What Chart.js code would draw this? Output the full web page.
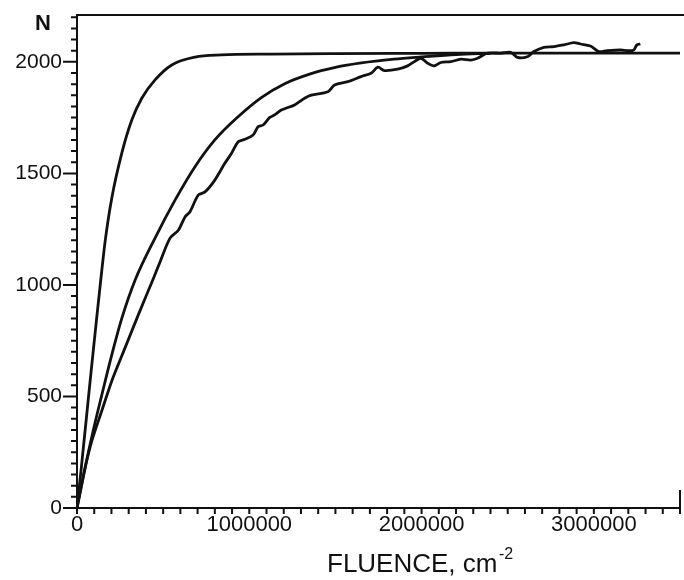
<!DOCTYPE html>
<html>
<head>
<meta charset="utf-8">
<script src="https://cdn.jsdelivr.net/npm/chart.js@4"></script>
<style>
    html, body { margin: 0; padding: 0; background: #fff; }
    #wrap { width: 684px; height: 580px; position: relative; }
</style>
</head>
<body>
<div id="wrap"><canvas id="grafico"></canvas></div>
<script>
// curva rapida (satura antes de 1000000)
const fluenciaRapida = [0, 25000, 54000, 83000, 114000, 139000, 164000, 202000, 260000, 318000, 376000, 453000, 550000, 685000, 839000, 1128000, 1500000, 2000000, 2500000, 3000000, 3500000];
const nRapida = [0, 180, 400, 620, 850, 1030, 1200, 1390, 1591, 1739, 1837, 1919, 1986, 2021, 2031, 2035, 2037, 2038, 2039, 2039, 2039];

// curva intermediaria
const fluenciaMedia = [0, 48000, 96500, 145000, 203000, 260000, 337000, 453000, 569000, 685000, 800000, 935000, 1070000, 1200000, 1350000, 1500000, 1650000, 1840000, 2000000, 2200000, 2400000];
const nMedia = [0, 185, 355, 510, 690, 850, 1021, 1210, 1380, 1530, 1650, 1754, 1840, 1900, 1945, 1975, 1995, 2012, 2022, 2033, 2038];

// curva medida (com ruido)
const fluenciaMedida = [0, 48000, 87000, 145000, 203000, 280000, 357000, 444000, 482000, 540000, 588000, 627000, 656000, 704000, 743000, 800000, 858000, 897000, 936000, 974000, 1022000, 1051000, 1080000, 1119000, 1147000, 1186000, 1263000, 1321000, 1360000, 1456000, 1495000, 1572000, 1649000, 1707000, 1746000, 1784000, 1861000, 1919000, 1958000, 1997000, 2035000, 2073000, 2112000, 2170000, 2228000, 2286000, 2325000, 2383000, 2459000, 2517000, 2556000, 2614000, 2652000, 2710000, 2768000, 2826000, 2884000, 2922000, 2980000, 3028000, 3077000, 3154000, 3202000, 3231000, 3250000, 3270000];
const nMedida = [0, 183, 303, 438, 572, 720, 868, 1030, 1103, 1210, 1245, 1305, 1328, 1403, 1417, 1470, 1545, 1590, 1642, 1653, 1672, 1709, 1717, 1751, 1762, 1784, 1807, 1837, 1851, 1866, 1896, 1911, 1934, 1949, 1976, 1961, 1967, 1982, 2001, 2016, 1994, 1982, 1997, 2001, 2012, 2008, 2016, 2039, 2039, 2043, 2020, 2023, 2046, 2065, 2068, 2076, 2086, 2080, 2071, 2046, 2050, 2053, 2050, 2053, 2076, 2080];

// eixos
const xTicks = [0, 1000000, 2000000, 3000000];
const xTickLabels = ['0', '1000000', '2000000', '3000000'];
const yTicks = [0, 500, 1000, 1500, 2000];
const yTickLabels = ['0', '500', '1000', '1500', '2000'];
const xMin = 0, xMax = 3500000, xPasso = 100000;
const yMin = 0, yMax = 2210, yPasso = 50;

function pontos(fs, ns) {
    return fs.map((f, i) => ({ x: f, y: ns[i] }));
}

const fonte = '"Liberation Sans", Arial, sans-serif';

// desenha eixos, marcas e titulos como no grafico original
const eixos = {
    id: 'eixos',
    afterDraw(chart) {
        const ctx = chart.ctx;
        const area = chart.chartArea;
        const sx = chart.scales.x;
        const sy = chart.scales.y;
        ctx.save();
        ctx.strokeStyle = '#111';
        ctx.lineWidth = 2;
        ctx.beginPath();
        ctx.moveTo(area.left, area.bottom);
        ctx.lineTo(area.left, area.top);
        ctx.lineTo(chart.width, area.top);
        ctx.moveTo(area.left - 1, area.bottom);
        ctx.lineTo(area.right, area.bottom);
        ctx.lineTo(area.right, area.bottom - 18);
        ctx.stroke();

        ctx.lineWidth = 2;
        ctx.beginPath();
        for (let v = yMin; v <= yMax; v += yPasso) {
            const py = sy.getPixelForValue(v);
            const len = yTicks.includes(v) ? 14 : 6;
            ctx.moveTo(area.left - len, py);
            ctx.lineTo(area.left, py);
        }
        for (let v = xMin; v <= xMax; v += xPasso) {
            const px = sx.getPixelForValue(v);
            ctx.moveTo(px, area.bottom);
            ctx.lineTo(px, area.bottom + 6);
        }
        ctx.stroke();

        ctx.fillStyle = '#111';
        ctx.font = 'bold 22px ' + fonte;
        ctx.textAlign = 'center';
        ctx.textBaseline = 'alphabetic';
        ctx.fillText('N', 43, 30);

        ctx.textAlign = 'left';
        ctx.font = '26px ' + fonte;
        ctx.fillText('FLUENCE, cm', 327, 572);
        ctx.font = '16px ' + fonte;
        ctx.fillText('-2', 499, 559);
        ctx.restore();
    }
};

const config = {
    type: 'line',
    data: {
        datasets: [
            {
                label: 'rapida',
                data: pontos(fluenciaRapida, nRapida),
                borderColor: '#111',
                borderWidth: 2.8,
                pointRadius: 0,
                cubicInterpolationMode: 'monotone',
                fill: false
            },
            {
                label: 'media',
                data: pontos(fluenciaMedia, nMedia),
                borderColor: '#111',
                borderWidth: 2.8,
                pointRadius: 0,
                cubicInterpolationMode: 'monotone',
                fill: false
            },
            {
                label: 'medida',
                data: pontos(fluenciaMedida, nMedida),
                borderColor: '#111',
                borderWidth: 2.8,
                pointRadius: 0,
                tension: 0.3,
                fill: false
            }
        ]
    },
    options: {
        responsive: true,
        maintainAspectRatio: false,
        animation: false,
        layout: { padding: { top: 15, right: 4, left: 0, bottom: 0 } },
        plugins: {
            legend: { display: false },
            tooltip: { enabled: false }
        },
        scales: {
            x: {
                type: 'linear',
                min: xMin,
                max: xMax,
                afterBuildTicks: s => { s.ticks = xTicks.map(v => ({ value: v })); },
                afterFit: s => { s.height = 72; s.paddingLeft = 0; s.paddingRight = 0; },
                grid: { display: false },
                border: { display: false },
                ticks: {
                    autoSkip: false,
                    maxRotation: 0,
                    padding: -4,
                    color: '#111',
                    font: { family: fonte, size: 22 },
                    callback: v => xTickLabels[xTicks.indexOf(v)]
                }
            },
            y: {
                type: 'linear',
                min: yMin,
                max: yMax,
                afterBuildTicks: s => { s.ticks = yTicks.map(v => ({ value: v })); },
                afterFit: s => { s.width = 77; s.paddingTop = 0; s.paddingBottom = 0; },
                grid: { display: false },
                border: { display: false },
                ticks: {
                    autoSkip: false,
                    padding: 7,
                    color: '#111',
                    font: { family: fonte, size: 21 },
                    callback: v => yTickLabels[yTicks.indexOf(v)]
                }
            }
        }
    },
    plugins: [eixos]
};

new Chart(document.getElementById('grafico'), config);
</script>
</body>
</html>
